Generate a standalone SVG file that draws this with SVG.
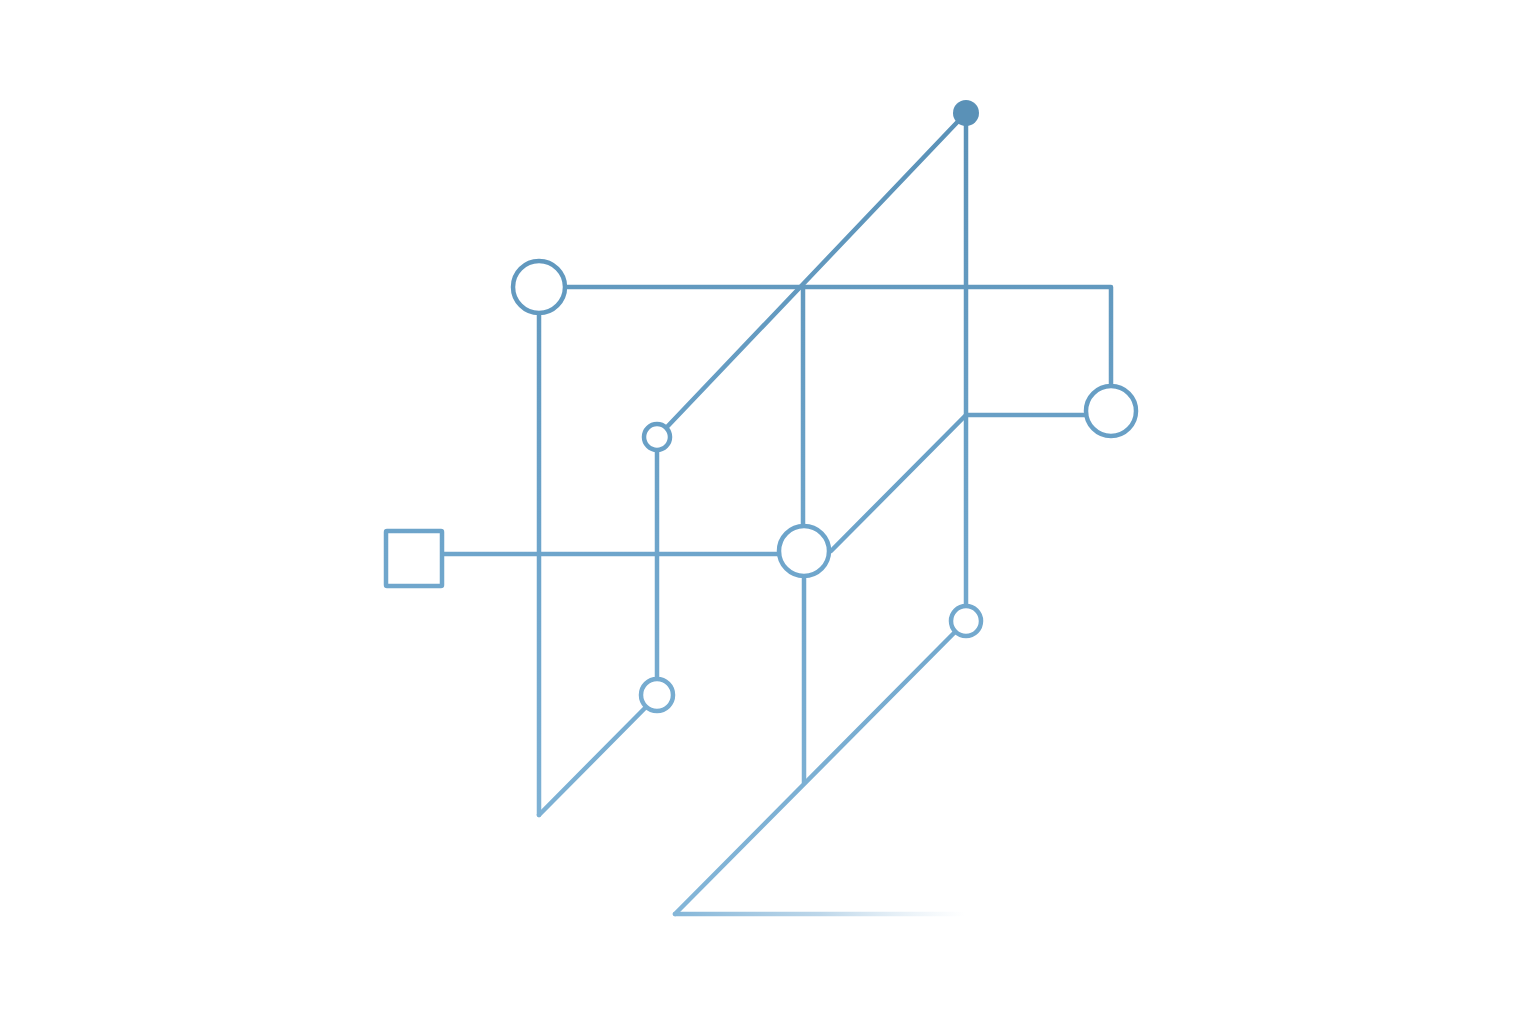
<svg xmlns="http://www.w3.org/2000/svg" width="1536" height="1024" viewBox="0 0 1536 1024">
  <defs>
    <linearGradient id="g" gradientUnits="userSpaceOnUse" x1="0" y1="100" x2="0" y2="920">
      <stop offset="0" stop-color="#5a91b7"/>
      <stop offset="0.55" stop-color="#6ea5cb"/>
      <stop offset="1" stop-color="#84b6d8"/>
    </linearGradient>
    <linearGradient id="fade" gradientUnits="userSpaceOnUse" x1="675" y1="0" x2="965" y2="0">
      <stop offset="0" stop-color="#84b6d8" stop-opacity="1"/>
      <stop offset="0.5" stop-color="#a0c5e0" stop-opacity="0.7"/>
      <stop offset="1" stop-color="#c4dbec" stop-opacity="0"/>
    </linearGradient>
  </defs>
  <style>
    .c { fill: none; stroke: url(#g); stroke-width: 4.5; stroke-linecap: round; stroke-linejoin: round; }
    .n { fill: #ffffff; stroke: url(#g); stroke-width: 4.5; }
  </style>
  <rect width="1536" height="1024" fill="#ffffff"/>
  <g id="connectors">
    <line class="c" x1="966" y1="113" x2="966" y2="606"/>
    <line class="c" x1="966" y1="113" x2="666" y2="428"/>
    <polyline class="c" points="565,287 1111,287 1111,385"/>
    <line class="c" x1="539" y1="313" x2="539" y2="815"/>
    <line class="c" x1="539" y1="815" x2="646" y2="707"/>
    <line class="c" x1="657" y1="450" x2="657" y2="679"/>
    <line class="c" x1="803" y1="287" x2="803" y2="525"/>
    <line class="c" x1="804" y1="577" x2="804" y2="783"/>
    <line class="c" x1="442" y1="554" x2="778" y2="554"/>
    <polyline class="c" points="831,551 966,415 1085,415"/>
    <line class="c" x1="955" y1="632" x2="675" y2="914"/>
    <line x1="675" y1="914" x2="965" y2="914" stroke="url(#fade)" stroke-width="4.5" stroke-linecap="round"/>
  </g>
  <g id="node-top">
    <circle cx="966" cy="113" r="13" fill="#5a91b7"/>
  </g>
  <g id="node-a">
    <circle class="n" cx="539" cy="287" r="26"/>
  </g>
  <g id="node-b">
    <circle class="n" cx="1111" cy="411" r="25"/>
  </g>
  <g id="node-c">
    <circle class="n" cx="657" cy="437" r="13"/>
  </g>
  <g id="node-d">
    <circle class="n" cx="804" cy="551" r="25"/>
  </g>
  <g id="node-e">
    <rect class="n" x="386" y="531" width="56" height="55" rx="1"/>
  </g>
  <g id="node-f">
    <circle class="n" cx="657" cy="695" r="16"/>
  </g>
  <g id="node-g">
    <circle class="n" cx="966" cy="621" r="15"/>
  </g>
</svg>
